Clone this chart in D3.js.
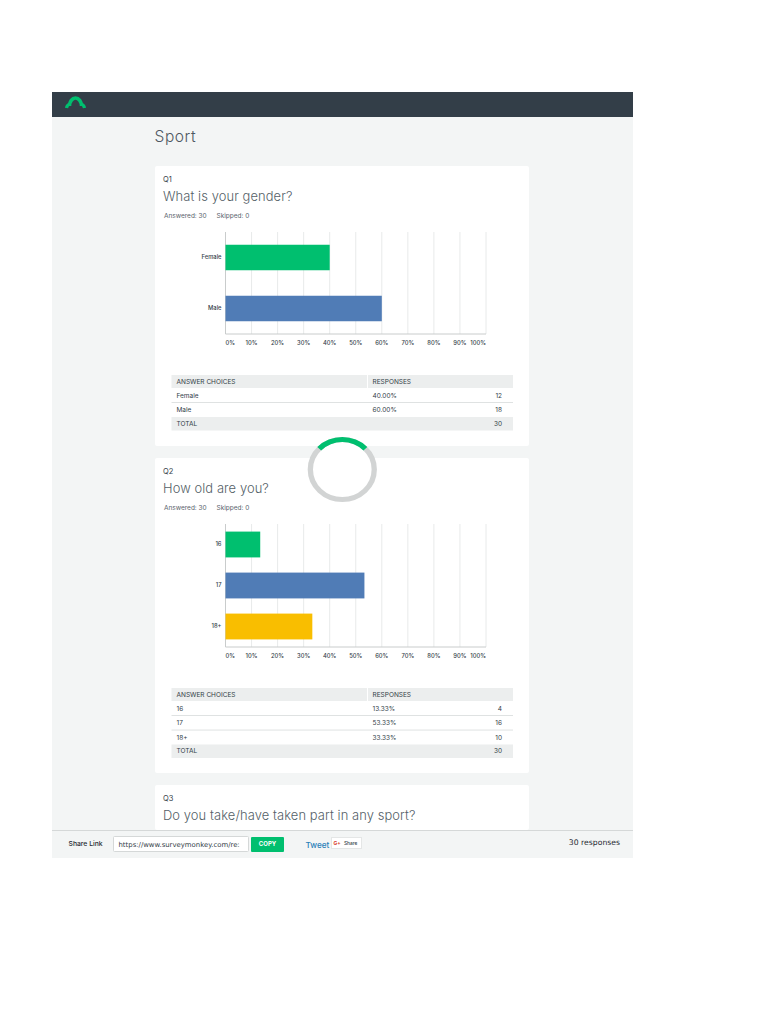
<!DOCTYPE html>
<html><head><meta charset="utf-8">
<script src="https://cdn.jsdelivr.net/npm/d3@7"></script>
<style>
html,body{margin:0;padding:0;background:#fff}
svg{display:block}
.tick-l,.cat-l{font-family:Inter,sans-serif;font-size:5.8px;font-weight:500;fill:#333e48}
.tbl{font-family:Inter,sans-serif;font-size:6.5px;font-weight:400;fill:#333e48}
</style></head><body><svg id="c" width="768" height="1024"></svg>
<script>
const pageTitle = "Sport";
const q1Categories = ["Female","Male"];
const q1Percent = [40,60];
const q1Counts = [12,18];
const q2Categories = ["16","17","18+"];
const q2Percent = [13.33,53.33,33.33];
const q2Counts = [4,16,10];
const tickValues = [0,10,20,30,40,50,60,70,80,90,100];
const barColors = ["#00bf6f","#507cb6","#f9be00"];
const totalCount = 30;

const svg = d3.select("#c");
const rect=(g,x,y,w,h,f,rx)=>g.append("rect").attr("x",x).attr("y",y).attr("width",w).attr("height",h).attr("fill",f).attr("rx",rx||0);
const txt=(g,x,y,s,size,f,o={})=>g.append("text").attr("x",x).attr("y",y).text(s).attr("font-size",size).attr("fill",f)
  .attr("text-anchor",o.anchor||"start").attr("font-weight",o.weight||400).attr("font-family",o.family||"Inter, sans-serif").attr("letter-spacing",o.ls||null);

// page frame
rect(svg,52,92,581,766,"#f3f5f5");
rect(svg,52,92,581,25,"#333e48");
const logo=svg.append("g").attr("stroke","#00bf6f").attr("fill","none");
logo.append("path").attr("d","M69.5 106 A6 8 0 0 1 81.5 106").attr("stroke-width",3.6);
logo.append("path").attr("d","M66.5 108 Q67 104.5 70.5 104").attr("stroke-width",3.2);
logo.append("path").attr("d","M84.5 108 Q84 104.5 80.5 104").attr("stroke-width",3.2);
txt(svg,154.5,142,pageTitle,15.5,"#4d5760",{weight:300,ls:"0.6px"});

function card(o){
  const g=svg.append("g");
  rect(g,155,o.top,374,o.h,"#fff",2);
  txt(g,163,o.top+16,o.q,7.5,"#333e48");
  txt(g,163,o.top+35,o.title,12.9,"#555f68",{weight:300,ls:"0.1px"});
  if(!o.cats) return g;
  txt(g,164,o.top+52,"Answered: 30",6.5,"#59636c");
  txt(g,216.5,o.top+52,"Skipped: 0",6.5,"#59636c");
  const x=d3.scaleLinear().domain([0,100]).range([225.5,486]);
  const y=d3.scaleBand().domain(o.cats).range([o.py0,o.py1]).paddingInner(o.pad).paddingOuter(o.pad/2);
  g.selectAll("line.grid").data(tickValues).join("line").attr("class","grid")
    .attr("x1",d=>x(d)).attr("x2",d=>x(d)).attr("y1",o.py0).attr("y2",o.py1)
    .attr("stroke","#e8eaea").attr("stroke-width",1);
  g.append("line").attr("x1",x(0)).attr("x2",x(0)).attr("y1",o.py0).attr("y2",o.py1).attr("stroke","#c9cccc");
  g.append("line").attr("x1",x(0)).attr("x2",x(100)).attr("y1",o.py1).attr("y2",o.py1).attr("stroke","#c9cccc");
  g.selectAll("rect.bar").data(o.vals).join("rect").attr("class","bar")
    .attr("x",x(0)).attr("y",(d,i)=>y(o.cats[i])).attr("height",y.bandwidth())
    .attr("width",d=>x(d)-x(0)).attr("fill",(d,i)=>barColors[i]);
  g.selectAll("text.cat-l").data(o.cats).join("text").attr("class","cat-l")
    .attr("x",x(0)-4).attr("y",d=>y(d)+y.bandwidth()/2+1.5).attr("text-anchor","end").text(d=>d);
  g.selectAll("text.tick-l").data(tickValues).join("text").attr("class","tick-l")
    .attr("x",d=>x(d)).attr("y",o.py1+11)
    .attr("text-anchor",d=>d===0?"start":d===100?"end":"middle").text(d=>d+"%");
  // table
  const T=o.tTop, rowH=14.5;
  const H=T+13;
  rect(g,171.5,T,341.5,13,"#eceeee");
  rect(g,367,T,1,13,"#fff");
  const tc=(x,y,s,a)=>g.append("text").attr("class","tbl").attr("x",x).attr("y",y).attr("text-anchor",a||"start").text(s);
  tc(176.5,T+8.8,"ANSWER CHOICES"); tc(372.5,T+8.8,"RESPONSES");
  o.cats.forEach((c,i)=>{
    const ry=H+rowH*i;
    tc(176.5,ry+9.6,c);
    tc(372.5,ry+9.6,o.vals[i].toFixed(2)+"%");
    tc(502,ry+9.6,o.counts[i],"end");
    if(i<o.cats.length-1) rect(g,171.5,ry+rowH-0.4,341.5,0.9,"#dcdfdf");
  });
  const ty=H+rowH*o.cats.length;
  rect(g,171.5,ty,341.5,13.5,"#eceeee");
  tc(176.5,ty+8.7,"TOTAL"); tc(502,ty+8.7,totalCount,"end");
  return g;
}
card({top:166,h:280,q:"Q1",title:"What is your gender?",cats:q1Categories,vals:q1Percent,counts:q1Counts,py0:232,py1:334,pad:0.5,tTop:375});
card({top:458,h:315,q:"Q2",title:"How old are you?",cats:q2Categories,vals:q2Percent,counts:q2Counts,py0:524,py1:647,pad:0.37,tTop:688});
card({top:785,h:45,q:"Q3",title:"Do you take/have taken part in any sport?"});

// loading ring (slightly stretched horizontally, as in the reference)
const ring=svg.append("g").attr("transform","translate(342.3,469.5) scale(1.065,1)");
ring.append("circle").attr("r",30).attr("fill","#fff").attr("stroke","#d2d4d4").attr("stroke-width",5);
ring.append("path")
  .attr("d",d3.arc().innerRadius(27.5).outerRadius(32.5).startAngle(-Math.PI/3.9).endAngle(Math.PI/3.9)())
  .attr("fill","#00bf6f");

// footer
rect(svg,52,830,581,28,"#f3f5f5");
rect(svg,52,830,581,1,"#d5d8d8");
txt(svg,68.5,846,"Share Link",6.8,"#1f2a33",{weight:500});
svg.append("rect").attr("x",113.5).attr("y",836.5).attr("width",135).attr("height",15).attr("rx",1).attr("fill","#fff").attr("stroke","#d5d8d8");
txt(svg,118.5,846.5,"https://www.surveymonkey.com/re:",6.9,"#333e48",{family:"DejaVu Sans"});
rect(svg,251,837,33,15,"#00bf6f",1);
txt(svg,267.5,846,"COPY",6,"#fff",{anchor:"middle",weight:700});
txt(svg,305.5,848,"Tweet",8.2,"#2a7fb8",{weight:500});
svg.append("rect").attr("x",331.5).attr("y",837.5).attr("width",30).attr("height",11).attr("fill","#fff").attr("stroke","#e4e6e6");
txt(svg,333.5,845,"G+",5,"#d9432f",{weight:700});
txt(svg,344,844.5,"Share",4.8,"#333e48",{weight:500});
txt(svg,620,844.5,"30 responses",7.7,"#1f2a33",{anchor:"end",family:"DejaVu Sans"});
</script></body></html>
